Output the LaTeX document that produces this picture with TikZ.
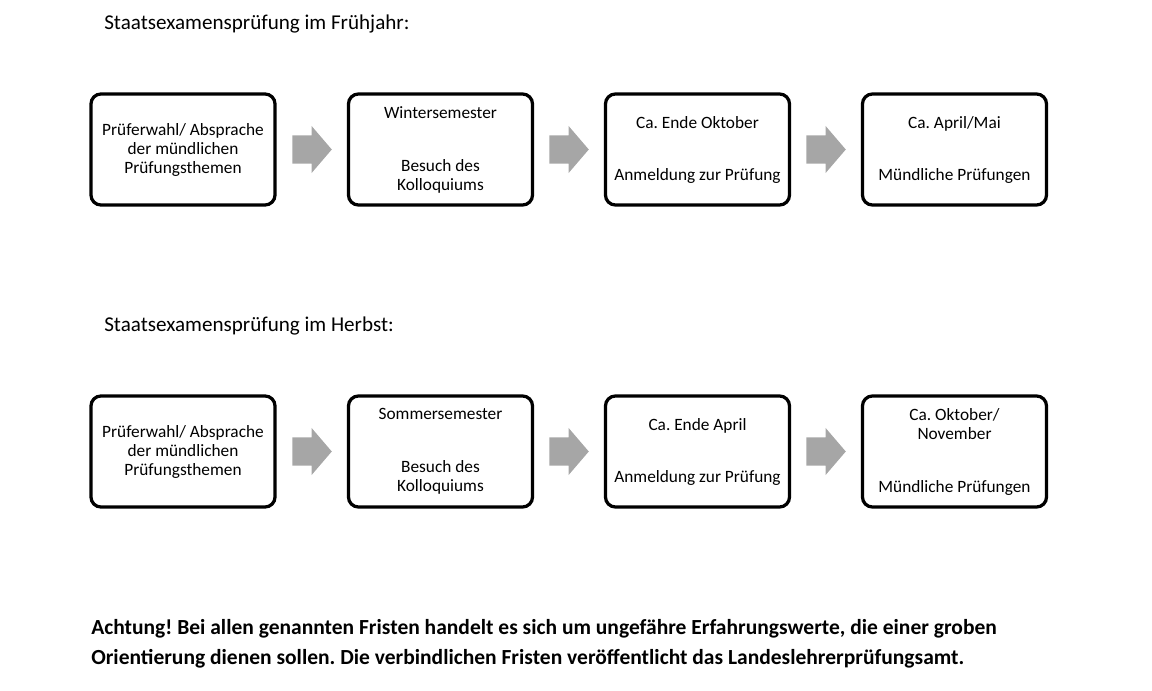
\documentclass[tikz,border=0pt]{standalone}
\usepackage{fontspec}
\setmainfont{Carlito}
\usetikzlibrary{shapes.arrows}
\definecolor{arrowgray}{RGB}{166,166,166}
\frenchspacing

\begin{document}
\begin{tikzpicture}[x=0.025cm, y=-0.025cm,
  stepbox/.style={draw, line width=2.3pt, rounded corners=0.25cm,
    minimum width=4.6cm, minimum height=2.775cm, inner sep=0pt,
    align=center, font=\fontsize{12.3}{13.5}\selectfont},
  blockarrow/.style={shape=single arrow, fill=arrowgray, inner xsep=0pt, inner ysep=0.346cm,
    minimum height=0.985cm,
    single arrow head extend=0.2375cm, single arrow tip angle=98.8},
  heading/.style={anchor=base west, inner sep=0pt, font=\fontsize{15}{18}\selectfont},
  notice/.style={anchor=base west, inner sep=0pt, font=\bfseries\fontsize{15.3}{18}\selectfont}]

\useasboundingbox (0,0) rectangle (1152,691);

% Spring exam
\node[heading] (fjtitle) at (104,29) {Staatsexamensprüfung im Frühjahr:};

\node[stepbox] (fj1) at (183,149.5) {Prüferwahl/ Absprache\\der mündlichen\\Prüfungsthemen};
\node[stepbox] (fj2) at (440.5,149.5) {Wintersemester\\[0.85cm]Besuch des\\Kolloquiums};
\node[stepbox] (fj3) at (697.5,149.5) {Ca. Ende Oktober\\[0.825cm]Anmeldung zur Prüfung};
\node[stepbox] (fj4) at (954.5,149.5) {Ca. April/Mai\\[0.825cm]Mündliche Prüfungen};

\node[blockarrow] (fjarr1) at (306,149.5) {};
\node[blockarrow] (fjarr2) at (563,149.5) {};
\node[blockarrow] (fjarr3) at (820,149.5) {};

% Autumn exam
\node[heading] (hbtitle) at (104,331) {Staatsexamensprüfung im Herbst:};

\node[stepbox] (hb1) at (183,451.5) {Prüferwahl/ Absprache\\der mündlichen\\Prüfungsthemen};
\node[stepbox] (hb2) at (440.5,451.5) {Sommersemester\\[0.85cm]Besuch des\\Kolloquiums};
\node[stepbox] (hb3) at (697.5,451.5) {Ca. Ende April\\[0.825cm]Anmeldung zur Prüfung};
\node[stepbox] (hb4) at (954.5,451.5) {Ca. Oktober/\\November\\[0.85cm]Mündliche Prüfungen};

\node[blockarrow] (hbarr1) at (306,451.5) {};
\node[blockarrow] (hbarr2) at (563,451.5) {};
\node[blockarrow] (hbarr3) at (820,451.5) {};

% Note
\node[notice] (note1) at (91,634) {Achtung! Bei allen genannten Fristen handelt es sich um ungefähre Erfahrungswerte, die einer groben};
\node[notice] (note2) at (91,664) {Orientierung dienen sollen. Die verbindlichen Fristen veröffentlicht das Landeslehrerprüfungsamt.};

\end{tikzpicture}
\end{document}
